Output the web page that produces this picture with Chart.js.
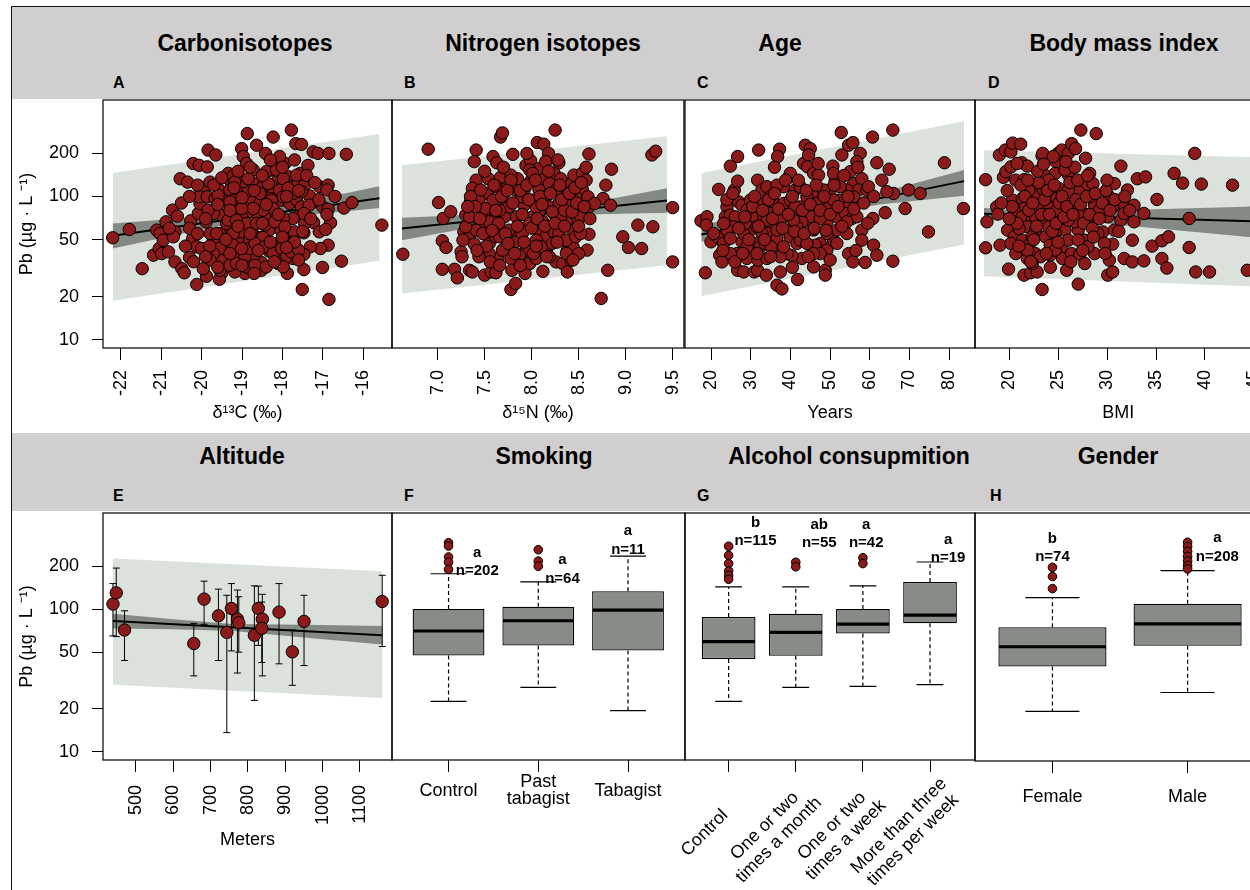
<!DOCTYPE html>
<html>
<head>
<meta charset="utf-8">
<script src="https://cdn.jsdelivr.net/npm/chart.js@4.4.1/dist/chart.umd.min.js"></script>
<style>
  html, body { margin:0; padding:0; background:#fff; }
  body { position:relative; width:1250px; height:890px; overflow:hidden; font-family:'Liberation Sans', Arial, Helvetica, sans-serif; color:#000; }
  #frame { position:absolute; left:11px; top:6px; width:1400px; height:1000px; border-left:1px solid #111; border-top:1px solid #111; }
  .band { position:absolute; left:12px; width:1300px; background:#d0cece; }
  .ttl { position:absolute; font-weight:bold; font-size:23px; line-height:1; white-space:nowrap; transform:translate(-50%,-50%); }
  .ltr { position:absolute; font-weight:bold; font-size:16px; line-height:1; transform:translateY(-50%); }
  canvas { position:absolute; }
</style>
</head>
<body>
<div id="frame"></div>
<div class="band" style="top:7px;height:92px"></div>
<div class="band" style="top:433px;height:78px"></div>
<div class="ttl" style="left:245px;top:43px">Carbonisotopes</div>
<div class="ttl" style="left:543px;top:43px">Nitrogen isotopes</div>
<div class="ttl" style="left:780px;top:43px">Age</div>
<div class="ttl" style="left:1124px;top:43px">Body mass index</div>
<div class="ltr" style="left:113px;top:83px">A</div>
<div class="ltr" style="left:404px;top:83px">B</div>
<div class="ltr" style="left:697px;top:83px">C</div>
<div class="ltr" style="left:988px;top:83px">D</div>
<div class="ttl" style="left:242px;top:456px">Altitude</div>
<div class="ttl" style="left:544px;top:456px">Smoking</div>
<div class="ttl" style="left:849px;top:456px">Alcohol consupmition</div>
<div class="ttl" style="left:1118px;top:456px">Gender</div>
<div class="ltr" style="left:113px;top:496px">E</div>
<div class="ltr" style="left:404px;top:496px">F</div>
<div class="ltr" style="left:697px;top:496px">G</div>
<div class="ltr" style="left:990px;top:496px">H</div>
<script>
// ================= DATA =================
const yTicks = [10, 20, 50, 100, 200];
const yTickLabels = ['10', '20', '50', '100', '200'];
const yTitle = 'Pb (µg · L ⁻¹)';

// --- A: carbon isotopes ---
const aTicks = [-22, -21, -20, -19, -18, -17, -16];
const aTickLabels = ['-22', '-21', '-20', '-19', '-18', '-17', '-16'];
const aX = [-22.20,-21.79,-21.47,-21.19,-21.11,-21.03,-21.05,-20.95,-20.88,-20.99,
-20.82,-20.72,-20.60,-20.66,-20.70,-20.66,-20.49,-20.43,-20.30,-20.27,
-20.22,-20.12,-20.00,-20.12,-19.88,-20.53,-20.35,-20.21,-20.06,-19.84,
-19.65,-19.86,-20.02,-19.94,-19.79,-19.56,-19.44,-19.34,-19.30,-19.22,
-19.01,-18.97,-18.87,-18.89,-18.64,-18.42,-18.23,-17.78,-17.67,-17.53,
-17.94,-18.21,-18.27,-18.11,-17.84,-17.56,-17.37,-17.24,-17.12,-16.85,
-16.42,-17.08,-16.87,-16.90,-17.33,-17.00,-16.87,-16.48,-16.28,-15.54,
-16.81,-17.23,-17.09,-16.93,-16.87,-17.06,-17.31,-17.47,-16.54,-17.01,
-17.47,-17.51,-16.85,-17.88,-18.07,-18.33,-18.52,-18.52,-18.93,-19.18,
-19.51,-19.56,-18.85,-18.72,-19.04,-18.81,-18.58,-18.33,-18.04,-17.82,
-17.59,-17.45,-17.47,-17.70,-17.82,-17.74,-17.98,-18.23,-18.48,-18.77,
-19.05,-19.30,-19.55,-19.59,-19.55,-19.47,-19.71,-19.79,-19.89,-20.08,
-20.04,-20.06,-19.86,-19.63,-19.51,-19.38,-19.22,-19.14,-18.93,-18.72,
-18.56,-18.40,-18.23,-18.02,-17.82,-17.65,-17.53,-17.34,-17.47,-17.74,
-17.98,-18.23,-18.44,-18.64,-18.85,-19.01,-18.89,-18.64,-18.44,-18.19,
-17.94,-18.97,-18.72,-18.52,-18.27,-18.07,-17.82,-17.61,-17.45,-17.74,
-17.98,-18.27,-18.56,-18.93,-19.14,-19.30,-19.47,-19.71,-19.84,-19.34,
-19.14,-19.22,-19.22,-19.05,-18.93,-18.81,-19.38,-19.55,-19.22,-19.01,
-18.68,-18.44,-18.23,-18.02,-17.90,-17.78,-17.60,-19.63,-19.71,-19.79,
-19.96,-19.55,-19.30,-19.14,-18.89,-18.68,-18.40,-18.11,-17.98,-18.40,
-18.35,-18.15,-17.98,-18.07,-17.86,-17.65,-17.53,-18.23,-18.48,-18.72,
-19.22,-19.01,-19.67,-19.59,-18.72,-18.85,-19.18,-19.30,
-19.70,-19.50,-19.10,-18.80,-18.50,-18.30,-18.00,-17.70,-17.40,-17.20,
-19.90,-19.60,-19.30,-19.00,-18.70,-18.40,-18.10,-17.90,-17.60,-17.30,
-20.30,-20.10,-19.80,-19.40,-19.10,-18.80,-18.60,-18.30,-18.00,-17.70,
-20.40,-20.20,-19.90,-19.60,-19.30,-19.00,-18.70,-18.20,-17.90,-17.60,
-20.80,-20.50,-20.30,-20.10,-17.10,-16.90,-16.70,-17.50,-18.50,-19.20];
const aY = [51.5,58.8,31.3,38.9,58.2,55.1,43.3,49.5,66.5,39.9,
41.0,80.2,72.9,56.6,52.3,34.9,31.3,29.3,37.5,67.6,
50.9,44.5,43.3,24.3,27.7,133,126,170,165,211,
195,161,111,116,126,111,96.8,145,130,139,
216,190,275,170,228,200,260,291,234,231,
170,170,153,130,137,145,165,205,200,200,
197,117,120,111,101,84.6,81.5,83.0,90.7,63.1,
65.5,65.8,56.6,58.8,45.7,43.3,44.5,39.5,35.3,31.9,
30.8,22.4,19.1,29.0,37.9,41.5,34.6,30.5,29.0,29.7,
29.0,26.4,36.9,37.9,49.5,49.5,51.7,58.2,58.2,55.1,
72.9,64.8,55.7,56.6,44.5,36.9,50.0,47.0,51.7,57.6,
56.6,58.2,55.1,45.7,39.9,35.9,50.9,55.1,66.5,76.1,
89.3,99.5,99.5,84.6,74.1,64.8,76.1,86.9,91.7,94.2,
89.3,102,105,94.2,89.3,94.2,84.6,86.9,76.1,70.2,
70.2,72.1,72.1,76.1,78.2,72.1,64.8,64.8,63.1,66.5,
61.4,126,123,114,117,111,117,126,120,105,
99.5,94.2,105,105,108,111,94.2,76.1,80.2,68.3,
68.3,55.1,39.9,36.9,37.9,43.3,42.2,43.3,45.7,43.3,
47.0,44.5,39.9,43.3,37.9,41.0,42.2,55.1,39.9,35.9,
31.3,30.5,33.1,34.0,32.2,33.1,32.2,34.0,32.2,149,
123,153,133,190,114,141,108,82.4,80.2,82.4,
94.2,82.4,96.8,102,153,133,126,91.7,
120,135,150,160,140,180,160,180,140,125,
70,88,80,98,110,88,75,100,110,70,
60,55,45,50,62,55,42,48,52,48,
45,35,38,32,40,33,29,35,44,36,
60,90,100,120,95,75,100,57,65,115];
const aFitX = [-22.20, -15.60];
const aFitY = [53.1, 97.3];
const aConfX = [-22.20, -20.58, -18.93, -17.24, -15.60];
const aConfHi = [64.8, 70.2, 76.6, 94.5, 118];
const aConfLo = [43.3, 54.3, 67.4, 74.8, 83.0];
const aPredX = [-22.20, -15.60];
const aPredHi = [146, 273];
const aPredLo = [18.7, 35.5];

// --- B: nitrogen isotopes ---
const bTicks = [7.0, 7.5, 8.0, 8.5, 9.0, 9.5];
const bTickLabels = ['7.0', '7.5', '8.0', '8.5', '9.0', '9.5'];
const bX = [6.63,6.90,7.01,7.05,7.06,7.14,7.09,7.05,7.18,7.21,
7.25,7.26,7.30,7.28,7.34,7.37,7.41,7.39,7.41,7.37,
7.35,7.34,7.39,7.44,7.46,7.50,7.57,7.62,7.59,7.63,
7.67,7.69,7.80,7.67,7.54,7.73,7.53,7.44,7.59,7.73,
7.83,7.84,7.71,7.59,7.50,7.53,7.55,7.64,7.73,7.78,
7.79,7.78,7.83,7.93,7.92,7.96,7.83,7.73,7.67,7.83,
7.92,7.85,7.94,7.99,8.06,8.13,8.18,8.25,8.29,8.24,
8.12,7.99,7.92,8.01,8.08,8.15,8.08,8.01,8.08,8.17,
8.15,8.24,8.29,8.26,8.33,8.38,8.38,8.44,8.37,8.44,
8.47,8.37,8.26,8.19,8.29,8.37,8.33,8.40,8.45,8.54,
8.58,8.54,8.47,8.52,8.60,8.61,8.61,8.59,8.50,8.61,
8.79,8.85,8.76,8.84,8.67,8.97,9.03,9.13,9.17,9.29,
9.28,9.32,9.50,9.50,8.81,8.74,8.05,7.98,7.90,7.76,
7.66,8.19,8.26,8.08,8.15,7.98,8.05,7.94,7.87,7.69,
7.55,7.44,7.62,7.41,7.30,7.27,7.34,7.46,7.51,8.12,
8.31,8.42,8.31,8.22,8.35,8.47,8.52,8.42,8.19,7.98,
8.05,7.76,7.66,7.55,7.78,8.01,7.89,7.62,8.10,8.44,
7.35,7.40,7.45,7.48,7.52,7.56,7.60,7.62,7.65,7.68,
7.70,7.72,7.75,7.78,7.80,7.82,7.85,7.88,7.90,7.92,
7.95,7.97,8.00,8.02,8.04,8.06,8.09,8.11,8.14,8.16,
8.18,8.20,8.22,8.25,8.27,8.30,8.32,8.35,8.37,8.40,
8.43,8.46,8.48,8.50,8.53,8.56,8.58,8.62,7.50,7.58,
7.42,7.66,7.88,8.12,8.28,7.95,8.05,7.74,8.44,7.32];
const bY = [39.5,214,90.7,49.0,70.2,78.2,44.0,31.0,31.0,27.0,
41.0,37.9,74.1,56.6,30.5,29.7,211,175,130,114,
91.7,52.3,46.5,63.1,38.9,28.2,29.7,29.3,190,172,
260,278,197,136,133,114,105,94.2,94.2,89.3,
111,72.1,72.1,68.3,74.1,55.1,47.0,36.9,43.3,36.9,
30.5,22.4,24.7,29.0,34.9,45.7,48.2,49.5,58.2,58.2,
86.9,133,165,178,238,232,200,291,172,145,
133,128,111,94.2,111,99.5,78.2,72.1,58.2,44.5,
52.3,56.6,55.1,34.9,34.0,29.7,42.2,44.5,49.5,58.2,
70.2,66.5,72.1,84.6,89.3,99.5,114,123,141,146,
130,111,99.5,72.1,99.5,84.6,54.5,42.2,39.9,198,
120,155,96.8,86.9,89.3,52.3,44.0,63.1,43.3,61.4,
195,207,83.6,34.9,30.5,19.4,84.6,64.8,55.1,84.6,
80.2,123,111,157,175,153,49.5,42.2,38.9,42.2,
39.9,37.9,52.3,58.2,61.4,49.5,72.1,111,82.4,66.5,
72.1,86.9,133,47.0,80.2,52.3,55.1,35.9,37.9,34.0,
36.9,58.2,52.3,66.5,141,145,99.5,117,44.5,111,
100,85,70,55,45,35,120,80,65,100,
160,55,47,130,90,40,62,110,75,48,
120,95,60,40,130,70,100,88,62,38,
150,105,78,65,48,120,95,62,40,105,
78,115,90,62,125,85,160,70,150,58,
42,33,33,30,180,200,45,110,36,85];
const bFitX = [6.62, 9.44];
const bFitY = [59.8, 93.7];
const bConfX = [6.62, 7.30, 8.01, 8.72, 9.44];
const bConfHi = [71.0, 74.2, 77.8, 93.0, 114];
const bConfLo = [49.5, 59.8, 71.4, 75.2, 76.9];
const bPredX = [6.62, 9.44];
const bPredHi = [165, 263];
const bPredLo = [21.0, 33.1];

// --- C: age ---
const cTicks = [20, 30, 40, 50, 60, 70, 80];
const cTickLabels = ['20', '30', '40', '50', '60', '70', '80'];
const cX = [17.48,18.99,18.83,18.57,20.0,21.93,21.51,23.19,22.18,22.77,
24.87,26.71,25.87,26.71,24.03,23.61,24.87,26.12,25.70,24.03,
26.96,27.80,26.54,27.80,24.87,26.71,28.22,29.06,30.91,31.74,
33.93,31.83,32.0,31.74,32.84,34.09,31.58,32.84,30.32,29.90,
28.22,30.74,32.42,33.67,35.35,34.51,36.61,36.61,35.10,37.45,
36.61,37.87,41.81,37.28,36.78,38.29,39.55,36.61,35.77,38.29,
39.13,37.45,36.61,39.13,39.97,41.64,42.90,40.39,39.97,41.22,
42.48,43.32,43.74,45.0,44.58,44.33,45.84,47.10,45.42,44.16,
42.48,44.16,45.42,42.90,41.64,45.84,47.52,49.19,45.84,48.78,
48.78,46.26,50.87,49.19,47.52,47.94,49.61,50.03,51.29,50.70,
50.87,52.97,54.65,55.74,52.80,57.58,56.74,55.07,55.91,58.0,
57.16,55.91,54.23,52.13,51.71,53.81,55.49,56.74,58.0,58.0,
54.65,55.74,58.84,60.94,61.78,60.77,59.26,59.68,61.78,60.69,
63.04,64.88,65.97,64.30,69.75,72.68,68.91,63.88,74.78,65.81,
78.81,83.59,65.81,48.36,51.71,53.39,39.97,33.26,29.90,29.06,
28.64,34.93,49.19,42.48,39.13,37.45,34.09,31.58,29.06,44.16,
41.22,54.23,52.55,54.23,51.71,47.52,34.09,32.84,23.19,20.67,
46.68,40.8,34.93,24.87,31.58,38.29,45.84,54.23,50.87,
24.0,25.5,27.0,28.5,29.5,30.5,31.0,32.0,33.0,33.5,
34.5,35.5,36.0,37.0,38.0,38.8,39.5,40.5,41.0,42.0,
43.0,43.5,44.0,45.0,46.0,46.5,47.5,48.5,49.0,50.0,
51.0,52.0,53.0,53.5,54.5,56.0,57.0,58.5,59.5,61.0,
23.0,26.0,28.0,35.0,40.5,44.5,50.0,56.5,36.0,47.0];
const cY = [67.6,72.1,63.1,29.3,48.2,112,52.3,47.0,38.9,34.9,
163,190,111,128,84.6,72.1,74.1,72.1,61.4,58.2,
91.7,86.9,39.9,48.2,39.9,30.5,29.7,36.9,29.7,30.5,
28.2,35.9,211,130,111,117,84.6,70.2,72.1,58.2,
55.1,47.0,44.5,47.0,61.4,55.1,44.5,50.9,44.5,29.7,
24.0,22.6,26.3,214,190,117,136,120,91.7,89.3,
74.1,68.3,58.2,58.2,52.3,47.0,36.9,38.5,145,111,
117,170,228,216,195,161,145,141,105,99.5,
84.6,68.3,72.1,66.5,61.4,58.2,47.0,42.2,32.2,30.5,
28.2,45.7,49.0,66.5,70.2,91.7,82.4,111,130,163,
145,195,228,238,280,200,175,149,123,133,
111,99.5,89.3,94.2,72.1,76.1,70.2,72.1,58.2,49.5,
39.9,34.9,34.6,45.7,38.9,70.2,111,117,172,260,
130,155,105,108,111,105,82.4,77.0,56.6,35.3,
172,82.4,291,111,58.2,61.4,94.2,89.3,94.2,80.2,
64.8,76.1,55.1,49.5,39.9,37.9,36.9,39.9,44.5,47.0,
84.6,111,117,55.1,47.0,39.9,68.3,55.1,64.8,55.1,
89.3,68.3,99.5,50.9,61.4,44.5,39.9,66.5,94.2,
95,105,60,72,50,85,100,62,80,50,
95,70,105,82,60,130,75,100,57,130,
80,55,110,88,60,120,80,100,58,75,
120,85,62,140,100,82,160,90,65,100,
42,35,40,38,32,38,36,42,160,170];
const cFitX = [17.57, 83.76];
const cFitY = [54.2, 128];
const cConfX = [17.57, 29.1, 42.0, 62.9, 83.76];
const cConfHi = [64.8, 69.2, 78.1, 107, 153];
const cConfLo = [48.2, 57.1, 71.0, 88.3, 101];
const cPredX = [17.57, 83.76];
const cPredHi = [146, 335];
const cPredLo = [20.2, 46.2];

// --- D: body mass index ---
const dTicks = [20, 25, 30, 35, 40, 45];
const dTickLabels = ['20', '25', '30', '35', '40', '45'];
const dX = [17.58,17.72,17.58,18.72,18.83,19.06,18.99,19.60,20.17,20.34,
21.17,19.40,19.66,20.17,20.67,21.51,21.28,21.85,19.83,20.50,
20.17,19.93,21.51,22.18,22.85,23.36,20.34,21.34,20.84,21.68,
21.34,22.35,21.85,21.01,21.34,22.01,22.68,23.19,24.19,21.85,
22.35,23.36,23.42,23.62,24.77,24.97,25.37,26.04,26.38,26.78,
27.32,28.89,24.70,26.04,25.03,24.19,23.02,22.68,23.19,24.03,
24.87,24.36,25.20,25.70,24.70,23.69,24.19,25.37,26.04,25.87,
27.05,25.44,26.38,27.21,28.22,27.72,27.05,26.04,26.71,27.55,
28.72,28.56,27.89,27.05,27.72,28.72,29.56,29.06,28.05,30.23,
30.74,31.41,32.08,31.58,30.57,30.07,30.74,30.57,30.23,30.07,
30.57,31.74,32.58,33.76,32.58,32.75,32.75,33.09,33.93,33.76,
35.10,34.60,35.60,36.28,35.60,36.11,36.85,37.72,38.96,39.63,
38.39,38.39,39.06,40.47,42.82,44.33,25.37,23.69,22.68,26.71,
24.87,26.04,28.22,29.23,31.41,31.74,22.68,20.67,21.85,24.70,
27.72,23.52,22.01,24.03,27.05,29.73,22.35,26.04,24.03,25.70,
19.8,20.3,20.8,21.2,21.6,22.0,22.4,22.8,23.0,23.3,
23.6,23.9,24.1,24.4,24.6,24.8,25.1,25.4,25.6,25.9,
26.2,26.5,26.8,27.0,27.3,27.6,27.9,28.2,28.5,28.8,
29.2,29.5,29.9,30.3,30.8,31.2,31.8,32.3,21.0,22.5,
23.8,25.0,26.3,27.5,28.6,29.8,24.2,22.2,20.0,19.2,
26.7,25.8,22.9,21.9,24.5,28.0,30.0,20.8,23.5,27.8];
const dY = [131,66.5,43.8,84.6,75.3,45.7,195,211,205,236,
232,136,149,161,130,131,172,163,58.2,52.3,
47.0,31.1,28.2,29.3,29.7,22.4,94.2,96.8,80.2,84.6,
72.1,68.3,61.4,59.8,49.5,45.7,39.9,37.9,38.9,36.9,
34.0,192,200,141,175,200,211,200,234,216,
291,275,145,141,114,111,117,99.5,86.9,89.3,
96.8,70.2,64.8,58.2,55.1,52.3,45.7,44.5,49.5,30.5,
24.4,36.9,39.9,39.5,145,117,108,89.3,80.2,76.1,
86.9,123,66.5,58.2,49.5,39.9,56.6,55.1,44.5,99.5,
123,163,111,89.3,84.6,72.1,58.2,46.5,35.9,28.2,
29.7,36.9,34.9,35.5,49.5,66.5,86.9,133,137,76.1,
95.3,45.0,49.0,52.3,36.9,31.6,145,124,200,122,
70.2,44.0,29.7,29.7,120,30.5,80.2,68.3,58.2,66.5,
80.2,111,99.5,80.2,68.3,76.1,72.1,39.9,42.2,42.2,
34.0,111,111,61.4,49.5,47.0,52.3,68.3,130,153,
110,85,65,120,100,80,90,62,125,75,
95,110,75,57,120,65,90,100,72,85,
125,75,95,130,88,65,100,75,60,105,
70,90,110,80,95,57,100,80,45,50,
40,48,35,42,52,40,32,35,70,90,
160,175,150,130,190,140,130,170,168,185];
const dFitX = [17.42, 46.0];
const dFitY = [75.7, 66.7];
const dConfX = [17.42, 25.0, 33.0, 44.2, 46.0];
const dConfHi = [83.2, 76.4, 80.8, 84.6, 86.6];
const dConfLo = [68.6, 70.3, 61.8, 52.3, 51.5];
const dPredX = [17.42, 46.0];
const dPredHi = [210, 187];
const dPredLo = [27.7, 23.4];

// --- E: altitude (site means with error bars) ---
const eTicks = [500, 600, 700, 800, 900, 1000, 1100];
const eTickLabels = ['500', '600', '700', '800', '900', '1000', '1100'];
const eX = [438.5, 447.3, 469.5, 655, 682.6, 721, 743.5, 755.8, 771.9, 775.6, 817.3, 828, 838.7, 837.1, 883.4, 919, 950.3, 1159.8];
const eY = [108.5, 130, 71.3, 57.3, 117.5, 89.7, 68.7, 101, 85, 80.2, 65.5, 101, 85, 73.3, 95.2, 50.1, 82, 113];
const eHi = [151, 194, 97.3, 79.4, 157, 138, 125, 151, 136, 122, 145.5, 145, 127, 112, 151, 71.3, 125, 172.6];
const eLo = [64.9, 64.1, 43.6, 34, 78.2, 43.6, 13.6, 50.9, 35.6, 49.9, 22.9, 55.6, 34, 42.2, 41.3, 29.2, 40.2, 54.6];
const eFitX = [438.5, 1160];
const eFitY = [82.4, 65.5];
const eConfX = [438.5, 600, 760, 950, 1160];
const eConfHi = [92.9, 84.9, 78.7, 77.6, 76.0];
const eConfLo = [73.1, 72.3, 70.2, 63.1, 56.4];
const ePredX = [438.5, 1160];
const ePredHi = [226, 184];
const ePredLo = [29.5, 23.8];

// --- F: smoking ---
const fCats = ['Control', ['Past', 'tabagist'], 'Tabagist'];
const fQ1 = [47.2, 55.5, 51.2];
const fMed = [70.2, 82.8, 98.4];
const fQ3 = [100, 104, 133.6];
const fWLo = [22.5, 28.2, 19.4];
const fWHi = [177, 155, 235.5];
const fOutX = [1, 1, 1, 1, 1, 2, 2, 2];
const fOutY = [292, 277, 232, 213, 190, 261, 217, 200];
const fLetters = ['a', 'a', 'a'];
const fCounts = ['n=202', 'n=64', 'n=11'];

// --- G: alcohol consumption ---
const gCats = ['Control', ['One or two', 'times a month'], ['One or two', 'times a week'], ['More than three', 'times per week']];
const gQ1 = [44.6, 47.0, 67.3, 79.4];
const gMed = [59.2, 68.7, 78.5, 90.8];
const gQ3 = [88, 92.7, 100, 155];
const gWLo = [22.5, 28.2, 28.7, 29.5];
const gWHi = [143, 143, 145.5, 214];
const gOutX = [1, 1, 1, 1, 1, 1, 2, 2, 3, 3];
const gOutY = [276, 238, 208.6, 185, 172.6, 162, 213, 198, 229, 208.6];
const gLetters = ['b', 'ab', 'a', 'a'];
const gCounts = ['n=115', 'n=55', 'n=42', 'n=19'];

// --- H: gender ---
const hCats = ['Female', 'Male'];
const hQ1 = [40.0, 55.8];
const hMed = [54.9, 79.4];
const hQ3 = [75.2, 109.7];
const hWLo = [19.4, 26.3];
const hWHi = [121, 187];
const hOutX = [1, 1, 1, 2, 2, 2, 2, 2, 2, 2];
const hOutY = [197, 170, 140, 295, 275, 255, 235, 218, 203, 192];
const hLetters = ['b', 'a'];
const hCounts = ['n=74', 'n=208'];

// ================= LAYOUT / STYLE =================
const Y_RANGE = [8.74, 472];
const FAM = "'Liberation Sans', Arial, Helvetica, sans-serif";
const RED = '#8b1a1a', PRED_C = '#dbe1db', CONF_C = '#838a83', BOX_C = '#878c86';
const TOP = 30;
const FS = 18;
Chart.defaults.font.family = FAM;
Chart.defaults.color = '#000';

// text placement for box-plot annotations (offset from category, y value)
const fTextPos = { dx: [0.32, 0.27, 0.0], letterY: [249, 220, 352], countY: [184, 162, 261] };
const gTextPos = { dx: [0.40, 0.35, 0.05, 0.27], letterY: [405, 392, 392, 308], countY: [303, 290, 290, 230] };
const hTextPos = { dx: [0.0, 0.22], letterY: [311, 315], countY: [232, 234] };

function mkCtx(box, L, R, T, B) {
  const c = document.createElement('canvas');
  const w = box.r - box.l + L + R, h = box.b - box.t + T + B;
  c.width = w; c.height = h;
  c.style.left = (box.l - L) + 'px';
  c.style.top = (box.t - T) + 'px';
  c.style.width = w + 'px';
  c.style.height = h + 'px';
  document.body.appendChild(c);
  return c.getContext('2d');
}

const framePlugin = {
  id: 'frame',
  afterDraw(chart) {
    const a = chart.chartArea, ctx = chart.ctx;
    ctx.save();
    ctx.strokeStyle = '#000';
    ctx.lineWidth = 1.2;
    ctx.strokeRect(a.left, a.top, a.right - a.left, a.bottom - a.top);
    ctx.restore();
  }
};

function yScale(show) {
  const s = {
    type: 'logarithmic', min: Y_RANGE[0], max: Y_RANGE[1], bounds: 'data', display: show,
    afterBuildTicks: sc => { sc.ticks = yTicks.map(v => ({ value: v })); },
    ticks: { autoSkip: false, padding: 13, font: { size: FS }, color: '#000',
             callback: v => yTickLabels[yTicks.indexOf(v)] },
    grid: { drawOnChartArea: false, drawTicks: true, tickLength: 11, color: '#000', lineWidth: 1 },
    border: { display: false },
    title: { display: show, text: yTitle, font: { size: FS, lineHeight: 1 }, color: '#000', padding: { top: 7, bottom: 0 } }
  };
  if (show) s.afterFit = sc => { sc.width = 92; };
  return s;
}

function xScale(o) {
  return {
    type: 'linear', min: o.min, max: o.max, bounds: 'data', offset: false,
    afterBuildTicks: sc => { sc.ticks = o.ticks.map(v => ({ value: v })); },
    afterFit: sc => { sc.height = o.B; },
    ticks: { display: !o.ownLabels, autoSkip: false, minRotation: o.rot, maxRotation: o.rot, padding: o.pad,
             crossAlign: o.cross || 'near',
             font: { size: FS, lineHeight: o.lh || 1.2 }, color: '#000',
             callback: v => o.labels[o.ticks.indexOf(v)] },
    grid: { drawOnChartArea: false, drawTicks: true, tickLength: 12, color: '#000', lineWidth: 1, offset: false },
    border: { display: false },
    title: o.title ? { display: true, text: o.title, font: { size: FS, lineHeight: 1 }, color: '#000', padding: { top: 0, bottom: o.tpad } }
                   : { display: false }
  };
}

const baseOpts = { responsive: false, animation: false, events: [], devicePixelRatio: 1 };

function xy(xs, ys) { return xs.map((v, i) => ({ x: v, y: ys[i] })); }
function band(xs, ys, fill, color, order) {
  return { type: 'line', data: xy(xs, ys), borderColor: 'rgba(0,0,0,0)', borderWidth: 0,
           pointRadius: 0, pointHoverRadius: 0, tension: 0, fill: fill, backgroundColor: color, order: order };
}

function scatterPanel(box, showY, B, o) {
  const L = showY ? 92 : 20;
  const ctx = mkCtx(box, L, 20, TOP, B);
  const datasets = [
    { type: 'scatter', data: xy(o.x, o.y), backgroundColor: RED, borderColor: '#000', borderWidth: 1,
      pointRadius: 6.2, pointHoverRadius: 6.2, order: 0 },
    { type: 'line', data: xy(o.fitX, o.fitY), borderColor: '#000', borderWidth: 2, pointRadius: 0,
      tension: 0, fill: false, order: 1 },
    band(o.confX, o.confHi, '+1', CONF_C, 2),
    band(o.confX, o.confLo, false, CONF_C, 2),
    band(o.predX, o.predHi, '+1', PRED_C, 3),
    band(o.predX, o.predLo, false, PRED_C, 3)
  ];
  new Chart(ctx, {
    type: 'scatter',
    data: { datasets },
    options: Object.assign({}, baseOpts, {
      layout: { padding: { left: showY ? 0 : L, right: 20, top: TOP, bottom: 0 } },
      plugins: { legend: { display: false }, tooltip: { enabled: false } },
      scales: { x: xScale(o.xa), y: yScale(showY) }
    }),
    plugins: [framePlugin].concat(o.extra || [])
  });
}

function errBarPlugin(xs, lo, hi) {
  return {
    id: 'errbars',
    beforeDatasetDraw(chart, args) {
      if (args.index !== 0) return;
      const ctx = chart.ctx, x = chart.scales.x, y = chart.scales.y;
      ctx.save();
      ctx.strokeStyle = '#000';
      ctx.lineWidth = 1;
      xs.forEach((v, i) => {
        const px = x.getPixelForValue(v);
        const p1 = y.getPixelForValue(lo[i]), p2 = y.getPixelForValue(hi[i]);
        ctx.beginPath();
        ctx.moveTo(px, p1); ctx.lineTo(px, p2);
        ctx.moveTo(px - 3.5, p1); ctx.lineTo(px + 3.5, p1);
        ctx.moveTo(px - 3.5, p2); ctx.lineTo(px + 3.5, p2);
        ctx.stroke();
      });
      ctx.restore();
    }
  };
}

// rotated, centre-justified category labels (R style srt=45 text)
function rotLabelPlugin(labels, dx, dy, lh) {
  return {
    id: 'rotlabels',
    afterDraw(chart) {
      const ctx = chart.ctx, x = chart.scales.x, a = chart.chartArea;
      ctx.save();
      ctx.fillStyle = '#000';
      ctx.font = FS + 'px ' + FAM;
      ctx.textAlign = 'center';
      ctx.textBaseline = 'middle';
      labels.forEach((lab, i) => {
        const lines = Array.isArray(lab) ? lab : [lab];
        ctx.save();
        ctx.translate(x.getPixelForValue(i + 1) + dx, a.bottom + dy);
        ctx.rotate(-Math.PI / 4);
        lines.forEach((t, j) => ctx.fillText(t, 0, (j - (lines.length - 1) / 2) * lh));
        ctx.restore();
      });
      ctx.restore();
    }
  };
}

function boxStatsPlugin(o) {
  return {
    id: 'boxstats',
    beforeDatasetsDraw(chart) {
      const ctx = chart.ctx, y = chart.scales.y;
      const bars = chart.getDatasetMeta(0).data;
      ctx.save();
      ctx.strokeStyle = '#000';
      ctx.lineWidth = 1.2;
      bars.forEach((b, i) => {
        const x = b.x, hw = b.width / 4;
        const pq1 = y.getPixelForValue(o.q1[i]), pq3 = y.getPixelForValue(o.q3[i]);
        const plo = y.getPixelForValue(o.wLo[i]), phi = y.getPixelForValue(o.wHi[i]);
        ctx.setLineDash([4, 3]);
        ctx.beginPath();
        ctx.moveTo(x, pq3); ctx.lineTo(x, phi);
        ctx.moveTo(x, pq1); ctx.lineTo(x, plo);
        ctx.stroke();
        ctx.setLineDash([]);
        ctx.beginPath();
        ctx.moveTo(x - hw, phi); ctx.lineTo(x + hw, phi);
        ctx.moveTo(x - hw, plo); ctx.lineTo(x + hw, plo);
        ctx.stroke();
      });
      ctx.restore();
    },
    afterDatasetsDraw(chart) {
      const ctx = chart.ctx, y = chart.scales.y;
      const bars = chart.getDatasetMeta(0).data;
      ctx.save();
      ctx.strokeStyle = '#000';
      ctx.lineWidth = 3.2;
      bars.forEach((b, i) => {
        const pm = y.getPixelForValue(o.med[i]);
        ctx.beginPath();
        ctx.moveTo(b.x - b.width / 2 + 0.6, pm); ctx.lineTo(b.x + b.width / 2 - 0.6, pm);
        ctx.stroke();
      });
      ctx.restore();
    },
    afterDraw(chart) {
      const ctx = chart.ctx, x = chart.scales.x, y = chart.scales.y;
      ctx.save();
      ctx.fillStyle = '#000';
      ctx.font = 'bold 15px ' + FAM;
      ctx.textAlign = 'center';
      ctx.textBaseline = 'middle';
      o.letters.forEach((t, i) => {
        const px = x.getPixelForValue(i + 1 + o.pos.dx[i]);
        ctx.fillText(t, px, y.getPixelForValue(o.pos.letterY[i]));
        ctx.fillText(o.counts[i], px, y.getPixelForValue(o.pos.countY[i]));
      });
      ctx.restore();
    }
  };
}

function boxPanel(box, B, L, o) {
  const ctx = mkCtx(box, L, 20, TOP, B);
  const datasets = [
    { type: 'bar', data: o.q1.map((v, i) => ({ x: i + 1, y: [v, o.q3[i]] })), backgroundColor: BOX_C,
      borderColor: '#000', borderWidth: 1.3, borderSkipped: false, categoryPercentage: 1.0, barPercentage: 0.8, order: 1 },
    { type: 'scatter', data: xy(o.outX, o.outY), backgroundColor: RED, borderColor: '#000', borderWidth: 1,
      pointRadius: 4.3, pointHoverRadius: 4.3, order: 0 }
  ];
  new Chart(ctx, {
    type: 'bar',
    data: { datasets },
    options: Object.assign({}, baseOpts, {
      layout: { padding: { left: L, right: 20, top: TOP, bottom: 0 } },
      plugins: { legend: { display: false }, tooltip: { enabled: false } },
      scales: { x: xScale(o.xa), y: yScale(false) }
    }),
    plugins: [framePlugin, boxStatsPlugin(o)].concat(o.extra || [])
  });
}

// ================= BUILD =================
scatterPanel({ l: 103, r: 392, t: 100, b: 348 }, true, 82, {
  x: aX, y: aY, fitX: aFitX, fitY: aFitY, confX: aConfX, confHi: aConfHi, confLo: aConfLo,
  predX: aPredX, predHi: aPredHi, predLo: aPredLo,
  xa: { min: -22.44, max: -15.29, ticks: aTicks, labels: aTickLabels, rot: 90, pad: 10, B: 82, title: 'δ¹³C (‰)', tpad: 8 }
});
scatterPanel({ l: 392, r: 685, t: 100, b: 348 }, false, 82, {
  x: bX, y: bY, fitX: bFitX, fitY: bFitY, confX: bConfX, confHi: bConfHi, confLo: bConfLo,
  predX: bPredX, predHi: bPredHi, predLo: bPredLo,
  xa: { min: 6.515, max: 9.62, ticks: bTicks, labels: bTickLabels, rot: 90, pad: 10, B: 82, title: 'δ¹⁵N (‰)', tpad: 8 }
});
scatterPanel({ l: 685, r: 975, t: 100, b: 348 }, false, 82, {
  x: cX, y: cY, fitX: cFitX, fitY: cFitY, confX: cConfX, confHi: cConfHi, confLo: cConfLo,
  predX: cPredX, predHi: cPredHi, predLo: cPredLo,
  xa: { min: 13.45, max: 86.5, ticks: cTicks, labels: cTickLabels, rot: 90, pad: 10, B: 82, title: 'Years', tpad: 8 }
});
scatterPanel({ l: 975, r: 1266, t: 100, b: 348 }, false, 82, {
  x: dX, y: dY, fitX: dFitX, fitY: dFitY, confX: dConfX, confHi: dConfHi, confLo: dConfLo,
  predX: dPredX, predHi: dPredHi, predLo: dPredLo,
  xa: { min: 16.5, max: 45.8, ticks: dTicks, labels: dTickLabels, rot: 90, pad: 10, B: 82, title: 'BMI', tpad: 8 }
});
scatterPanel({ l: 103, r: 392, t: 513, b: 760 }, true, 100, {
  x: eX, y: eY, fitX: eFitX, fitY: eFitY, confX: eConfX, confHi: eConfHi, confLo: eConfLo,
  predX: ePredX, predHi: ePredHi, predLo: ePredLo,
  xa: { min: 411.8, max: 1186, ticks: eTicks, labels: eTickLabels, rot: 90, pad: 13, B: 100, title: 'Meters', tpad: 11 },
  extra: [errBarPlugin(eX, eLo, eHi)]
});
boxPanel({ l: 392, r: 685, t: 513, b: 760 }, 100, 20, {
  q1: fQ1, med: fMed, q3: fQ3, wLo: fWLo, wHi: fWHi, outX: fOutX, outY: fOutY,
  letters: fLetters, counts: fCounts, pos: fTextPos,
  xa: { min: 0.37, max: 3.635, ticks: [1, 2, 3], labels: fCats, rot: 0, pad: 10, B: 100, lh: 0.97, cross: 'center' }
});
boxPanel({ l: 685, r: 975, t: 513, b: 760 }, 130, 20, {
  q1: gQ1, med: gMed, q3: gQ3, wLo: gWLo, wHi: gWHi, outX: gOutX, outY: gOutY,
  letters: gLetters, counts: gCounts, pos: gTextPos,
  xa: { min: 0.35, max: 4.67, ticks: [1, 2, 3, 4], labels: gCats, rot: 0, pad: 10, B: 130, ownLabels: true },
  extra: [rotLabelPlugin(gCats, -24, 73, 20)]
});
boxPanel({ l: 975, r: 1266, t: 513, b: 761 }, 100, 20, {
  q1: hQ1, med: hMed, q3: hQ3, wLo: hWLo, wHi: hWHi, outX: hOutX, outY: hOutY,
  letters: hLetters, counts: hCounts, pos: hTextPos,
  xa: { min: 0.427, max: 2.58, ticks: [1, 2], labels: hCats, rot: 0, pad: 13, B: 100 }
});
</script>
</body>
</html>
